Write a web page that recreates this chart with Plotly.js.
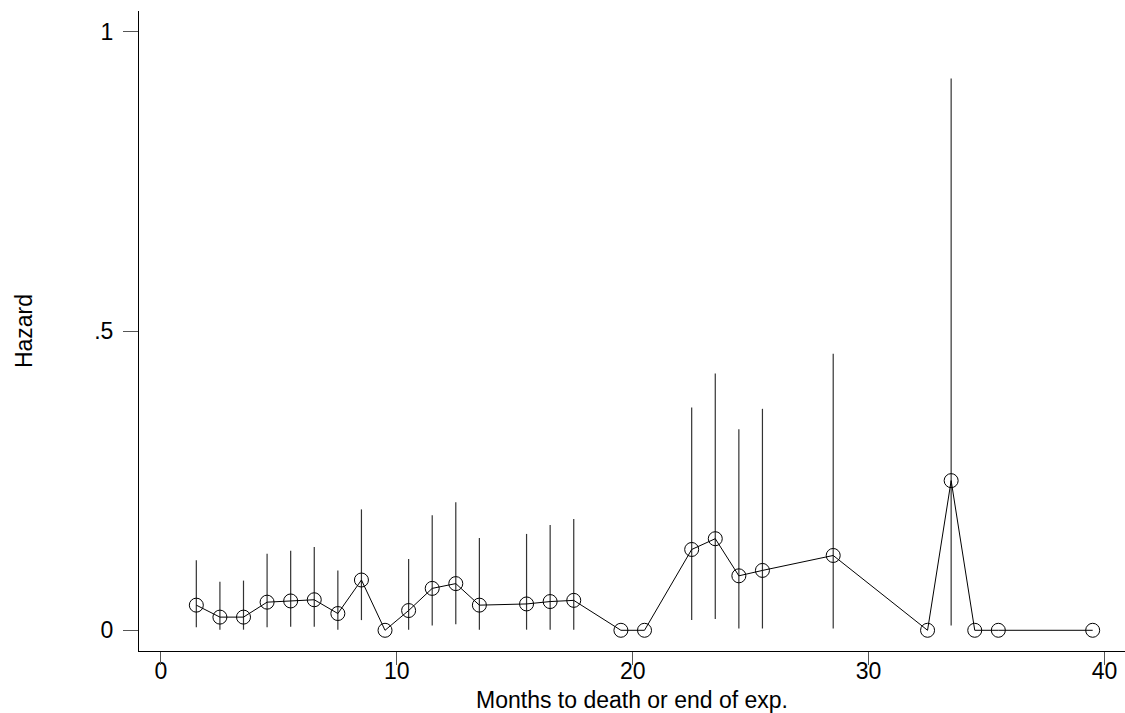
<!DOCTYPE html>
<html>
<head>
<meta charset="utf-8">
<script src="https://cdn.plot.ly/plotly-3.0.1.min.js"></script>
<style>html,body{margin:0;padding:0;background:#fff;}#chart{width:1125px;height:713px;}</style>
</head>
<body>
<div id="chart"></div>
<script>
// Months (interval midpoints)
var months = [1.5,2.5,3.5,4.5,5.5,6.5,7.5,8.5,9.5,10.5,11.5,12.5,13.5,15.5,16.5,17.5,19.5,20.5,22.5,23.5,24.5,25.5,28.5,32.5,33.5,34.5,35.5,39.5];
// Hazard estimates
var hazard = [0.042,0.022,0.022,0.047,0.049,0.051,0.028,0.084,0,0.033,0.070,0.078,0.042,0.044,0.048,0.050,0,0,0.135,0.153,0.091,0.100,0.125,0,0.250,0,0,0];
// Upper confidence limits (null = no interval)
var upperCI = [0.117,0.081,0.083,0.128,0.133,0.139,0.100,0.202,null,0.119,0.192,0.214,0.154,0.161,0.176,0.186,null,null,0.372,0.429,0.336,0.370,0.462,null,0.922,null,null,null];
// Lower confidence limits
var lowerCI = [0.005,0.001,0.001,0.005,0.006,0.006,0.001,0.017,null,0.001,0.008,0.010,0.001,0.001,0.001,0.001,null,null,0.017,0.019,0.003,0.003,0.003,null,0.008,null,null,null];
// Tick labels
var xTickVals = [0,10,20,30,40];
var xTickText = ["0","10","20","30","40"];
var yTickVals = [0,0.5,1];
var yTickText = ["0",".5","1"];

var errPlus = hazard.map(function(h,i){ return upperCI[i]===null ? 0 : upperCI[i]-h; });
var errMinus = hazard.map(function(h,i){ return lowerCI[i]===null ? 0 : h-lowerCI[i]; });

var font = {family: "Liberation Sans, Arial, sans-serif", size: 23, color: "#000"};
var tickFont = {family: "Liberation Sans, Arial, sans-serif", size: 23, color: "#000"};
var xRange = [-0.93, 40.87];

var traces = [{
  x: months,
  y: hazard,
  type: "scatter",
  mode: "lines+markers",
  line: {color: "#000", width: 1},
  marker: {symbol: "circle-open", size: 14, color: "#000", line: {color: "#000", width: 1}},
  error_y: {type: "data", symmetric: false, array: errPlus, arrayminus: errMinus, width: 0, thickness: 1.2, color: "#333"},
  showlegend: false,
  hoverinfo: "x+y"
}, {
  // invisible trace to activate the tick-mark axis
  x: [xRange[0]], y: [0], xaxis: "x2", yaxis: "y",
  type: "scatter", mode: "markers", marker: {opacity: 0}, showlegend: false, hoverinfo: "skip"
}];

var layout = {
  width: 1125, height: 713,
  margin: {l: 139, r: 0, t: 11, b: 62, pad: 0},
  paper_bgcolor: "#fff", plot_bgcolor: "#fff",
  font: font,
  showlegend: false,
  xaxis: {
    range: xRange,
    anchor: "free", position: 0,
    tickvals: xTickVals, ticktext: xTickText,
    ticks: "",
    showline: false,
    showgrid: false, zeroline: false,
    tickfont: tickFont,
    ticklabelstandoff: 4,
    title: {text: "Months to death or end of exp.", font: font, standoff: 8},
    automargin: false
  },
  xaxis2: {
    range: xRange, overlaying: "x", side: "bottom", anchor: "y",
    tickvals: xTickVals,
    ticks: "outside", ticklen: 13, tickwidth: 1, tickcolor: "#555",
    showline: true, linecolor: "#000", linewidth: 1,
    showticklabels: false, showgrid: false, zeroline: false,
    automargin: false
  },
  yaxis: {
    range: [-0.0346, 1.0346],
    tickvals: yTickVals, ticktext: yTickText,
    ticks: "outside", ticklen: 15, tickwidth: 1, tickcolor: "#555",
    showline: true, linecolor: "#000", linewidth: 1,
    showgrid: false, zeroline: false,
    tickfont: tickFont,
    ticklabelstandoff: 5,
    title: {text: "Hazard", font: font, standoff: 55},
    automargin: false
  }
};

Plotly.newPlot("chart", traces, layout, {displayModeBar: false, staticPlot: true});
</script>
</body>
</html>
